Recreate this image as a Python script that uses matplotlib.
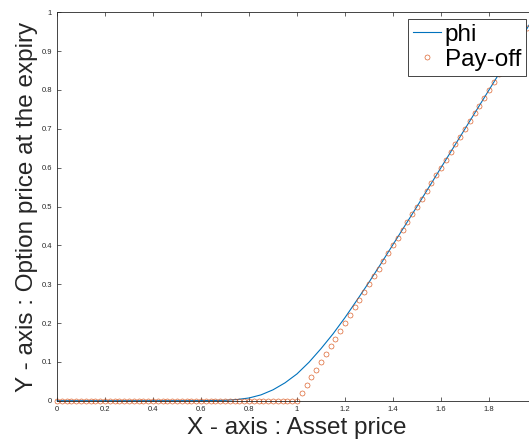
import matplotlib.pyplot as plt
from matplotlib.ticker import FuncFormatter

plt.rcParams['font.family'] = ['Liberation Sans', 'DejaVu Sans']

# option value curve (phi), sampled along the asset price
phi_x = [0.0, 0.5, 0.6, 0.7, 0.75, 0.8, 0.85, 0.9, 0.95, 1.0, 1.05, 1.1,
         1.15, 1.2, 1.25, 1.3, 1.35, 1.4, 1.5, 1.6, 1.7, 1.8, 1.9, 2.0]
phi_y = [0.0, 0.0, 0.0002, 0.001, 0.003, 0.007, 0.015, 0.028, 0.046, 0.069,
         0.099, 0.134, 0.172, 0.214, 0.259, 0.305, 0.353, 0.402, 0.500,
         0.600, 0.700, 0.800, 0.900, 1.000]

# pay-off at expiry, one circle per grid point
payoff_x = [0.00, 0.02, 0.04, 0.06, 0.08, 0.10, 0.12, 0.14, 0.16, 0.18,
            0.20, 0.22, 0.24, 0.26, 0.28, 0.30, 0.32, 0.34, 0.36, 0.38,
            0.40, 0.42, 0.44, 0.46, 0.48, 0.50, 0.52, 0.54, 0.56, 0.58,
            0.60, 0.62, 0.64, 0.66, 0.68, 0.70, 0.72, 0.74, 0.76, 0.78,
            0.80, 0.82, 0.84, 0.86, 0.88, 0.90, 0.92, 0.94, 0.96, 0.98,
            1.00, 1.02, 1.04, 1.06, 1.08, 1.10, 1.12, 1.14, 1.16, 1.18,
            1.20, 1.22, 1.24, 1.26, 1.28, 1.30, 1.32, 1.34, 1.36, 1.38,
            1.40, 1.42, 1.44, 1.46, 1.48, 1.50, 1.52, 1.54, 1.56, 1.58,
            1.60, 1.62, 1.64, 1.66, 1.68, 1.70, 1.72, 1.74, 1.76, 1.78,
            1.80, 1.82, 1.84, 1.86, 1.88, 1.90, 1.92, 1.94, 1.96, 1.98,
            2.00]
payoff_y = [0.00, 0.00, 0.00, 0.00, 0.00, 0.00, 0.00, 0.00, 0.00, 0.00,
            0.00, 0.00, 0.00, 0.00, 0.00, 0.00, 0.00, 0.00, 0.00, 0.00,
            0.00, 0.00, 0.00, 0.00, 0.00, 0.00, 0.00, 0.00, 0.00, 0.00,
            0.00, 0.00, 0.00, 0.00, 0.00, 0.00, 0.00, 0.00, 0.00, 0.00,
            0.00, 0.00, 0.00, 0.00, 0.00, 0.00, 0.00, 0.00, 0.00, 0.00,
            0.00, 0.02, 0.04, 0.06, 0.08, 0.10, 0.12, 0.14, 0.16, 0.18,
            0.20, 0.22, 0.24, 0.26, 0.28, 0.30, 0.32, 0.34, 0.36, 0.38,
            0.40, 0.42, 0.44, 0.46, 0.48, 0.50, 0.52, 0.54, 0.56, 0.58,
            0.60, 0.62, 0.64, 0.66, 0.68, 0.70, 0.72, 0.74, 0.76, 0.78,
            0.80, 0.82, 0.84, 0.86, 0.88, 0.90, 0.92, 0.94, 0.96, 0.98,
            1.00]

x_ticks = [0, 0.2, 0.4, 0.6, 0.8, 1.0, 1.2, 1.4, 1.6, 1.8]
y_ticks = [0, 0.1, 0.2, 0.3, 0.4, 0.5, 0.6, 0.7, 0.8, 0.9, 1.0]

axis_col = '#262626'

fig = plt.figure(figsize=(5.29, 4.43), dpi=100)
# the box runs a little past the right edge of the figure
ax = fig.add_axes([57 / 529, 1 - 400.7 / 443, 480 / 529, 388.4 / 443])

ax.plot(phi_x, phi_y, color='#0072BD', lw=0.8, label='phi', clip_on=False)
ax.plot(payoff_x, payoff_y, 'o', mfc='none', mec='#D95319', ms=3.6,
        mew=0.45, label='Pay-off', clip_on=False)

ax.set_xlim(0, 2)
ax.set_ylim(0, 1)
ax.set_xticks(x_ticks)
ax.set_yticks(y_ticks)
fmt = FuncFormatter(lambda v, pos: '%g' % v)
ax.xaxis.set_major_formatter(fmt)
ax.yaxis.set_major_formatter(fmt)
ax.tick_params(direction='in', top=True, right=True, length=3, width=0.5,
               labelsize=5.5, colors=axis_col, pad=3.5)
for sp in ax.spines.values():
    sp.set_linewidth(0.6)
    sp.set_color(axis_col)

ax.set_xlabel('X - axis : Asset price', fontsize=17.5, color=axis_col)
ax.set_ylabel('Y - axis : Option price at the expiry', fontsize=17.5,
              color=axis_col)
ax.xaxis.set_label_coords(0.5, -0.042)
ax.yaxis.set_label_coords(-0.04, 0.5)

leg = ax.legend(loc='upper right', bbox_to_anchor=(0.977, 0.983),
                borderaxespad=0, borderpad=0.2, labelspacing=0.12,
                handlelength=1.15, handletextpad=0.15, fancybox=False,
                edgecolor=axis_col, framealpha=1, numpoints=1,
                fontsize=17.5)
leg.get_frame().set_linewidth(0.6)

fig.savefig('out.png', dpi=100)
